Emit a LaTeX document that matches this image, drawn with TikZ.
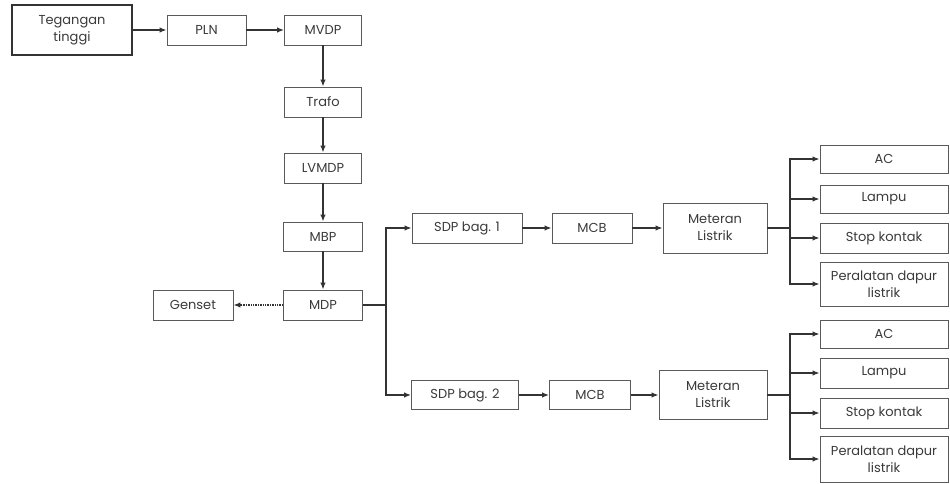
\documentclass[tikz,border=0pt]{standalone}
\usepackage{fontspec}
\setmainfont{Poppins}
\usetikzlibrary{arrows.meta,positioning,calc}
\definecolor{linegray}{HTML}{333333}
\definecolor{boxgray}{HTML}{5A5A5A}
\definecolor{textgray}{HTML}{3A3A3A}

\begin{document}
\begin{tikzpicture}[x=1pt,y=-1pt,
  box/.style={draw=boxgray, line width=0.8pt, text=textgray, align=center,
    font=\fontsize{13}{17}\selectfont, inner sep=1pt},
  flow/.style={draw=linegray, line width=1.4pt, -{Latex[length=7pt,width=5.5pt]}},
  wire/.style={draw=linegray, line width=1.4pt}]
  \useasboundingbox (0,0) rectangle (950,484);
  % Supply chain
  \node[box, draw=linegray, line width=1.3pt, minimum width=120pt, minimum height=50pt] (teg) at (72,30) {Tegangan\\tinggi};
  \node[box, minimum width=79pt, minimum height=30pt] (pln)   at (206.5,30) {PLN};
  \node[box, minimum width=77pt, minimum height=30pt] (mvdp)  at (323,30) {MVDP};
  \node[box, minimum width=77pt, minimum height=30pt] (trafo) at (323,102) {Trafo};
  \node[box, minimum width=77pt, minimum height=30pt] (lvmdp) at (323,168) {LVMDP};
  \node[box, minimum width=79pt, minimum height=29pt] (mbp)   at (323,236.5) {MBP};
  \node[box, minimum width=79pt, minimum height=30pt] (mdp)   at (323,305) {MDP};
  \node[box, minimum width=80pt, minimum height=30pt] (genset) at (193,305) {Genset};
  \draw[flow] (teg) -- (pln);
  \draw[flow] (pln) -- (mvdp);
  \draw[flow] (mvdp) -- (trafo);
  \draw[flow] (trafo) -- (lvmdp);
  \draw[flow] (lvmdp) -- (mbp);
  \draw[flow] (mbp) -- (mdp);
  \draw[draw=linegray, line width=1.4pt, densely dotted, -{Latex[length=7pt,width=5.5pt]}] (mdp) -- (genset);
  % Bagian 1
  \node[box, minimum width=110pt, minimum height=30pt] (sdp1) at (467,228) {SDP bag. 1};
  \node[box, minimum width=80pt, minimum height=30pt]  (mcb1) at (592,228) {MCB};
  \node[box, minimum width=104pt, minimum height=50pt] (met1) at (715,228) {Meteran\\Listrik};
  \node[box, minimum width=128pt, minimum height=28pt] (ac1)    at (884,159) {AC};
  \node[box, minimum width=128pt, minimum height=28pt] (lampu1) at (884,199) {Lampu};
  \node[box, minimum width=128pt, minimum height=30pt] (stop1)  at (884,238) {Stop kontak};
  \node[box, minimum width=128pt, minimum height=44pt] (per1)   at (884,284) {Peralatan dapur\\listrik};
  % Bagian 2
  \node[box, minimum width=107pt, minimum height=29pt] (sdp2) at (465,395) {SDP bag. 2};
  \node[box, minimum width=81pt, minimum height=29pt]  (mcb2) at (590,395) {MCB};
  \node[box, minimum width=108pt, minimum height=49pt] (met2) at (713,395) {Meteran\\Listrik};
  \node[box, minimum width=128pt, minimum height=28pt] (ac2)    at (884,334) {AC};
  \node[box, minimum width=128pt, minimum height=30pt] (lampu2) at (884,373) {Lampu};
  \node[box, minimum width=128pt, minimum height=30pt] (stop2)  at (884,413) {Stop kontak};
  \node[box, minimum width=128pt, minimum height=46pt] (per2)   at (884,459) {Peralatan dapur\\listrik};
  % Branches
  \coordinate (split) at (386,305);
  \coordinate (fork1) at (790,228);
  \coordinate (fork2) at (790,395);
  \draw[wire] (mdp) -- (split);
  \draw[flow] (split) |- (sdp1);
  \draw[flow] (split) |- (sdp2);
  \draw[flow] (sdp1) -- (mcb1);
  \draw[flow] (mcb1) -- (met1);
  \draw[flow] (sdp2) -- (mcb2);
  \draw[flow] (mcb2) -- (met2);
  \draw[wire] (met1) -- (fork1);
  \draw[wire] (met2) -- (fork2);
  \foreach \n in {ac1,lampu1,stop1,per1}
    \draw[flow] (fork1) |- (\n);
  \foreach \n in {ac2,lampu2,stop2,per2}
    \draw[flow] (fork2) |- (\n);
\end{tikzpicture}
\end{document}
